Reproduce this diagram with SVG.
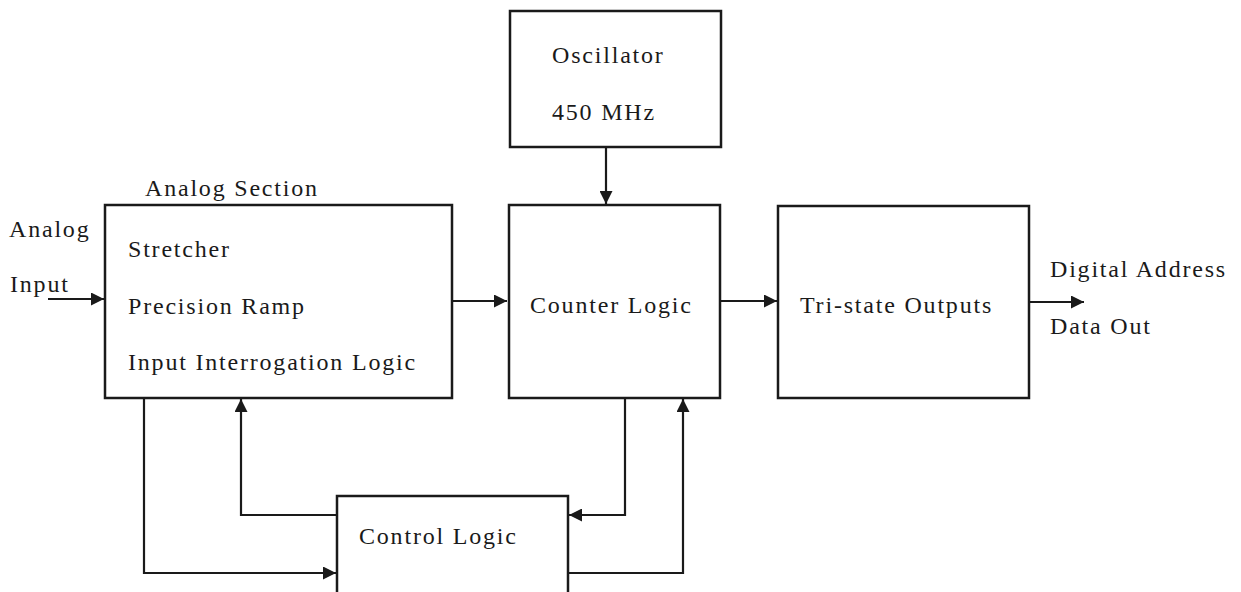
<svg xmlns="http://www.w3.org/2000/svg" width="1241" height="592" viewBox="0 0 1241 592">
<style>
.box{fill:#fff;stroke:#1a1a1a;stroke-width:2.5}
.ln{fill:none;stroke:#1a1a1a;stroke-width:2.2}
text{font-family:"Liberation Serif","Times New Roman",serif;font-size:24px;letter-spacing:1.8px;fill:#1a1a1a}
</style>
<defs>
<marker id="ah" viewBox="0 0 10 10" refX="10" refY="5" markerWidth="20" markerHeight="13" markerUnits="userSpaceOnUse" orient="auto">
<path d="M0,0 L10,5 L0,10 z" fill="#1a1a1a"/>
</marker>
</defs>
<rect width="1241" height="592" fill="#fff"/>
<g id="connectors">
<line class="ln" x1="48" y1="299" x2="104" y2="299" marker-end="url(#ah)"/>
<line class="ln" x1="452" y1="301" x2="507" y2="301" marker-end="url(#ah)"/>
<line class="ln" x1="720" y1="301" x2="777" y2="301" marker-end="url(#ah)"/>
<line class="ln" x1="1029" y1="302" x2="1084" y2="302" marker-end="url(#ah)"/>
<line class="ln" x1="606" y1="147" x2="606" y2="204" marker-end="url(#ah)"/>
<polyline class="ln" points="144,398 144,573 336,573" marker-end="url(#ah)"/>
<polyline class="ln" points="337,515 241,515 241,399" marker-end="url(#ah)"/>
<polyline class="ln" points="625,398 625,515 569,515" marker-end="url(#ah)"/>
<polyline class="ln" points="568,573 683,573 683,399" marker-end="url(#ah)"/>
</g>
<g id="oscillator">
<rect class="box" x="510" y="11" width="211" height="136"/>
<text x="552" y="63">Oscillator</text>
<text x="552" y="120">450 MHz</text>
</g>
<g id="analog-section">
<text x="145" y="196">Analog Section</text>
<rect class="box" x="105" y="205" width="347" height="193"/>
<text x="128" y="257">Stretcher</text>
<text x="128" y="314">Precision Ramp</text>
<text x="128" y="370">Input Interrogation Logic</text>
</g>
<g id="analog-input">
<text x="9" y="237">Analog</text>
<text x="10" y="292">Input</text>
</g>
<g id="counter-logic">
<rect class="box" x="509" y="205" width="211" height="193"/>
<text x="530" y="313">Counter Logic</text>
</g>
<g id="tri-state">
<rect class="box" x="778" y="206" width="251" height="192"/>
<text x="800" y="313">Tri-state Outputs</text>
</g>
<g id="digital-out">
<text x="1050" y="277">Digital Address</text>
<text x="1050" y="334">Data Out</text>
</g>
<g id="control-logic">
<rect class="box" x="337" y="496" width="231" height="110"/>
<text x="359" y="544">Control Logic</text>
</g>
</svg>
